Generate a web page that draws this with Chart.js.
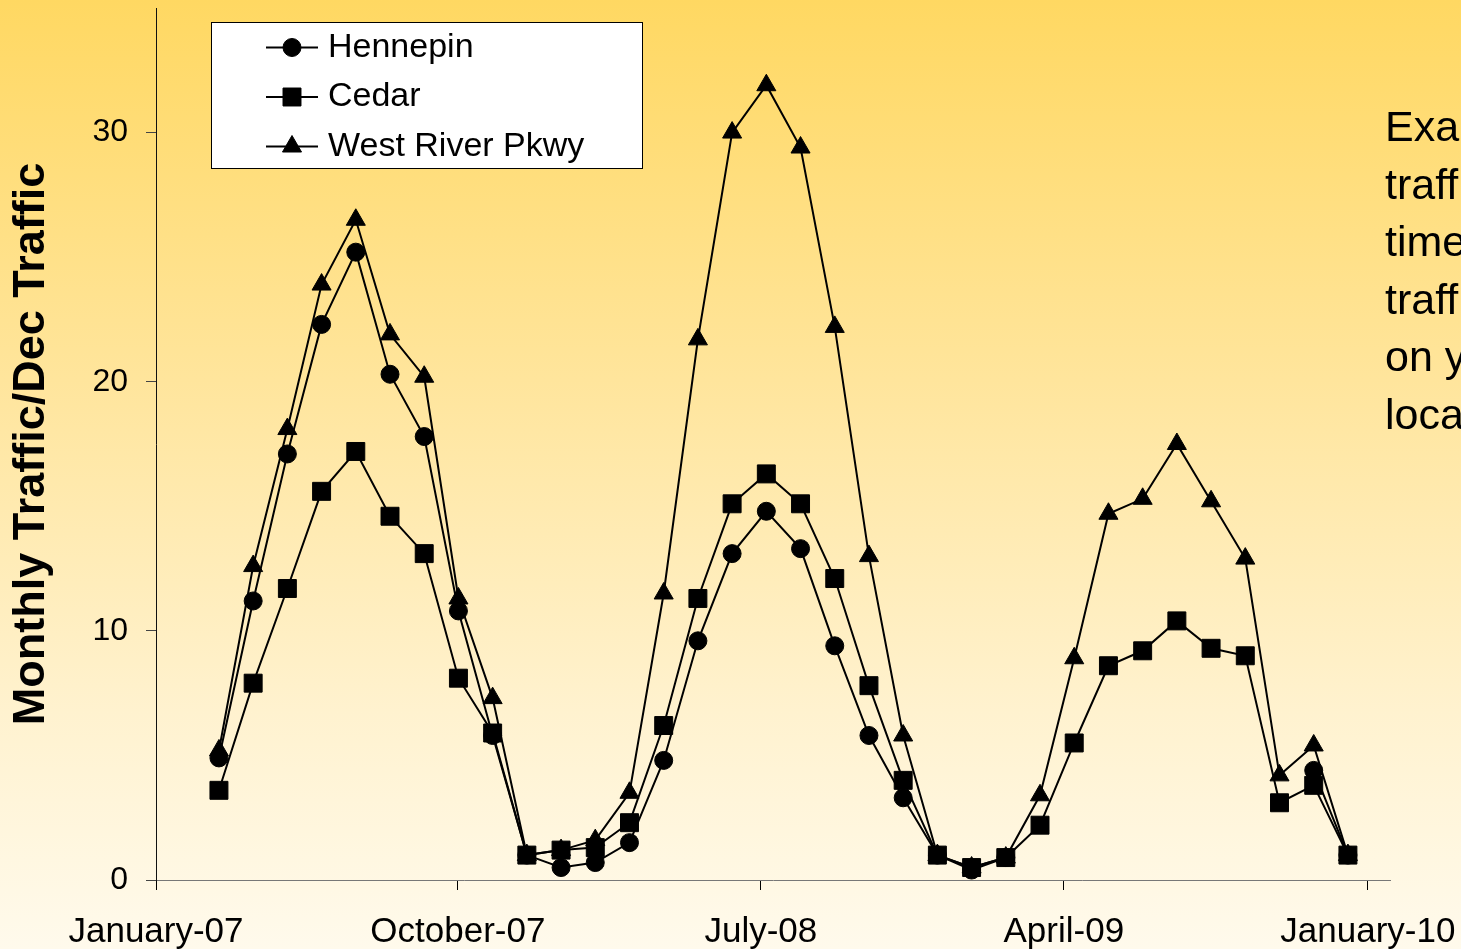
<!DOCTYPE html>
<html>
<head>
<meta charset="utf-8">
<title>Monthly Traffic / Dec Traffic</title>
<script src="https://cdn.jsdelivr.net/npm/chart.js@4.4.1/dist/chart.umd.min.js"></script>
<style>
  html, body {
    margin: 0;
    padding: 0;
    width: 1461px;
    height: 949px;
    overflow: hidden;
  }
  body {
    background: linear-gradient(to bottom, #ffd862 0%, #ffe59c 40%, #fff2cf 75%, #fffaec 100%);
    font-family: "Liberation Sans", Arial, sans-serif;
    position: relative;
  }
  #wrap {
    position: absolute;
    left: 0;
    top: 0;
    width: 1461px;
    height: 949px;
  }
  #note {
    position: absolute;
    left: 1385px;
    top: 98px;
    font-family: "Liberation Sans", Arial, sans-serif;
    font-size: 43px;
    line-height: 57.5px;
    color: #000;
    white-space: nowrap;
  }
</style>
</head>
<body>
<div id="wrap"><canvas id="chart" width="1461" height="949"></canvas></div>
<div id="note">Example of<br>traffic over<br>time; the<br>traffic depends<br>on your<br>location.</div>
<script>
// Monthly observations (year-month), March 2007 through December 2009
const months = [
  '2007-03', '2007-04', '2007-05', '2007-06', '2007-07', '2007-08', '2007-09', '2007-10', '2007-11', '2007-12',
  '2008-01', '2008-02', '2008-03', '2008-04', '2008-05', '2008-06', '2008-07', '2008-08', '2008-09', '2008-10', '2008-11', '2008-12',
  '2009-01', '2009-02', '2009-03', '2009-04', '2009-05', '2009-06', '2009-07', '2009-08', '2009-09', '2009-10', '2009-11', '2009-12'
];

// Monthly traffic divided by December traffic for each counting site
const hennepin = [
  4.9, 11.2, 17.1, 22.3, 25.2, 20.3, 17.8, 10.8, 5.8, 1.0,
  0.5, 0.7, 1.5, 4.8, 9.6, 13.1, 14.8, 13.3, 9.4, 5.8, 3.3, 1.0,
  0.4, 0.9, null, null, null, null, null, null, null, null, 4.4, 1.0
];
const cedar = [
  3.6, 7.9, 11.7, 15.6, 17.2, 14.6, 13.1, 8.1, 5.9, 1.0,
  1.2, 1.3, 2.3, 6.2, 11.3, 15.1, 16.3, 15.1, 12.1, 7.8, 4.0, 1.0,
  0.5, 0.9, 2.2, 5.5, 8.6, 9.2, 10.4, 9.3, 9.0, 3.1, 3.8, 1.0
];
const westRiver = [
  5.2, 12.6, 18.1, 23.9, 26.5, 21.9, 20.2, 11.3, 7.3, 1.0,
  1.2, 1.6, 3.5, 11.5, 21.7, 30.0, 31.9, 29.4, 22.2, 13.0, 5.8, 1.0,
  0.5, 0.9, 3.4, 8.9, 14.7, 15.3, 17.5, 15.2, 12.9, 4.2, 5.4, 1.0
];

const seriesNames = ['Hennepin', 'Cedar', 'West River Pkwy'];

// Axis ticks
const yTicks = [0, 10, 20, 30];
const xTickDates = ['2007-01-01', '2007-10-01', '2008-07-01', '2009-04-01', '2010-01-01'];
const xTickLabels = ['January-07', 'October-07', 'July-08', 'April-09', 'January-10'];

// Calendar axis range and month-index range of the plotted series
const calendarStart = '2007-01-01';
const calendarEnd = '2010-01-21';
const monthAxisMin = 0.16;
const monthAxisMax = 36.23;

const FONT = '"Liberation Sans", Arial, sans-serif';

function dayOffset(iso) {
  const [y, m, d] = iso.split('-').map(Number);
  const [y0, m0, d0] = calendarStart.split('-').map(Number);
  return (Date.UTC(y, m - 1, d) - Date.UTC(y0, m0 - 1, d0)) / 86400000;
}
function monthIndex(ym) {
  const [y, m] = ym.split('-').map(Number);
  return (y - 2007) * 12 + (m - 1);
}
function toPoints(values) {
  return values.map((v, i) => ({ x: monthIndex(months[i]), y: v }));
}

function seriesStyle(name, values, pointStyle, radius) {
  return {
    label: name,
    data: toPoints(values),
    xAxisID: 'x',
    yAxisID: 'y',
    borderColor: '#000',
    backgroundColor: '#000',
    borderWidth: 2,
    tension: 0,
    spanGaps: false,
    pointStyle: pointStyle,
    pointRadius: radius,
    pointHoverRadius: radius,
    pointBackgroundColor: '#000',
    pointBorderColor: '#000',
    pointBorderWidth: 1,
    clip: false
  };
}

// Fixed axis footprint: no extra room reserved for overhanging tick labels
function fixScaleBox(scale, size) {
  if (scale.isHorizontal()) {
    scale.height = size;
  } else {
    scale.width = size;
  }
  scale.paddingTop = 0;
  scale.paddingBottom = 0;
  scale.paddingLeft = 0;
  scale.paddingRight = 0;
}

function drawMarker(ctx, style, radius, x, y) {
  ctx.beginPath();
  if (style === 'circle') {
    ctx.arc(x, y, radius, 0, Math.PI * 2);
  } else if (style === 'rect') {
    const s = Math.SQRT1_2 * radius;
    ctx.rect(x - s, y - s, 2 * s, 2 * s);
  } else if (style === 'triangle') {
    const h = Math.sqrt(3) / 2 * radius;
    ctx.moveTo(x, y - radius);
    ctx.lineTo(x + h, y + radius / 2);
    ctx.lineTo(x - h, y + radius / 2);
    ctx.closePath();
  }
  ctx.fill();
  ctx.stroke();
}

// Boxed legend with line-and-marker samples
const boxedLegend = {
  id: 'boxedLegend',
  afterDraw(chart) {
    const ctx = chart.ctx;
    const box = { left: 211.5, top: 22.5, width: 431, height: 146 };
    const rowY = [47.5, 97, 146.5];
    ctx.save();
    ctx.fillStyle = '#fff';
    ctx.strokeStyle = '#000';
    ctx.lineWidth = 1;
    ctx.fillRect(box.left, box.top, box.width, box.height);
    ctx.strokeRect(box.left, box.top, box.width, box.height);
    chart.data.datasets.forEach((ds, i) => {
      const y = rowY[i];
      ctx.strokeStyle = ds.borderColor;
      ctx.lineWidth = ds.borderWidth;
      ctx.beginPath();
      ctx.moveTo(266, y);
      ctx.lineTo(318, y);
      ctx.stroke();
      ctx.fillStyle = ds.pointBackgroundColor;
      ctx.strokeStyle = ds.pointBorderColor;
      ctx.lineWidth = ds.pointBorderWidth;
      drawMarker(ctx, ds.pointStyle, ds.pointRadius, 292, y);
      ctx.fillStyle = '#000';
      ctx.font = '34px ' + FONT;
      ctx.textAlign = 'left';
      ctx.textBaseline = 'middle';
      ctx.fillText(ds.label, 328, y);
    });
    ctx.restore();
  }
};

new Chart(document.getElementById('chart'), {
  type: 'line',
  data: {
    datasets: [
      seriesStyle(seriesNames[0], hennepin, 'circle', 9),
      seriesStyle(seriesNames[1], cedar, 'rect', 12.7),
      seriesStyle(seriesNames[2], westRiver, 'triangle', 11)
    ]
  },
  options: {
    responsive: false,
    devicePixelRatio: 1,
    animation: false,
    events: [],
    layout: { autoPadding: false, padding: { top: 8, right: 71, left: 0, bottom: 0 } },
    plugins: {
      legend: { display: false },
      tooltip: { enabled: false }
    },
    scales: {
      x: {
        type: 'linear',
        display: false,
        min: monthAxisMin,
        max: monthAxisMax
      },
      xDate: {
        type: 'linear',
        position: 'bottom',
        min: 0,
        max: dayOffset(calendarEnd),
        afterBuildTicks(scale) {
          scale.ticks = xTickDates.map(d => ({ value: dayOffset(d) }));
        },
        afterFit(scale) { fixScaleBox(scale, 69); },
        border: { display: true, color: '#777', width: 1 },
        grid: { drawOnChartArea: false, drawTicks: true, tickLength: 10, color: '#000', lineWidth: 1 },
        ticks: {
          autoSkip: false,
          maxRotation: 0,
          padding: 21,
          color: '#000',
          font: { family: FONT, size: 35 },
          callback: (value, index) => xTickLabels[index]
        }
      },
      y: {
        type: 'linear',
        position: 'left',
        min: 0,
        max: 35,
        afterBuildTicks(scale) {
          scale.ticks = yTicks.map(v => ({ value: v }));
        },
        afterFit(scale) { fixScaleBox(scale, 156); },
        border: { display: true, color: '#111', width: 1 },
        grid: { drawOnChartArea: false, drawTicks: true, tickLength: 10, color: '#444', lineWidth: 1 },
        ticks: {
          padding: 18,
          color: '#000',
          font: { family: FONT, size: 32 }
        },
        title: {
          display: true,
          text: 'Monthly Traffic/Dec Traffic',
          color: '#000',
          font: { family: FONT, size: 45, weight: 'bold' },
          padding: { top: 5, bottom: 0 }
        }
      }
    }
  },
  plugins: [boxedLegend]
});
</script>
</body>
</html>
